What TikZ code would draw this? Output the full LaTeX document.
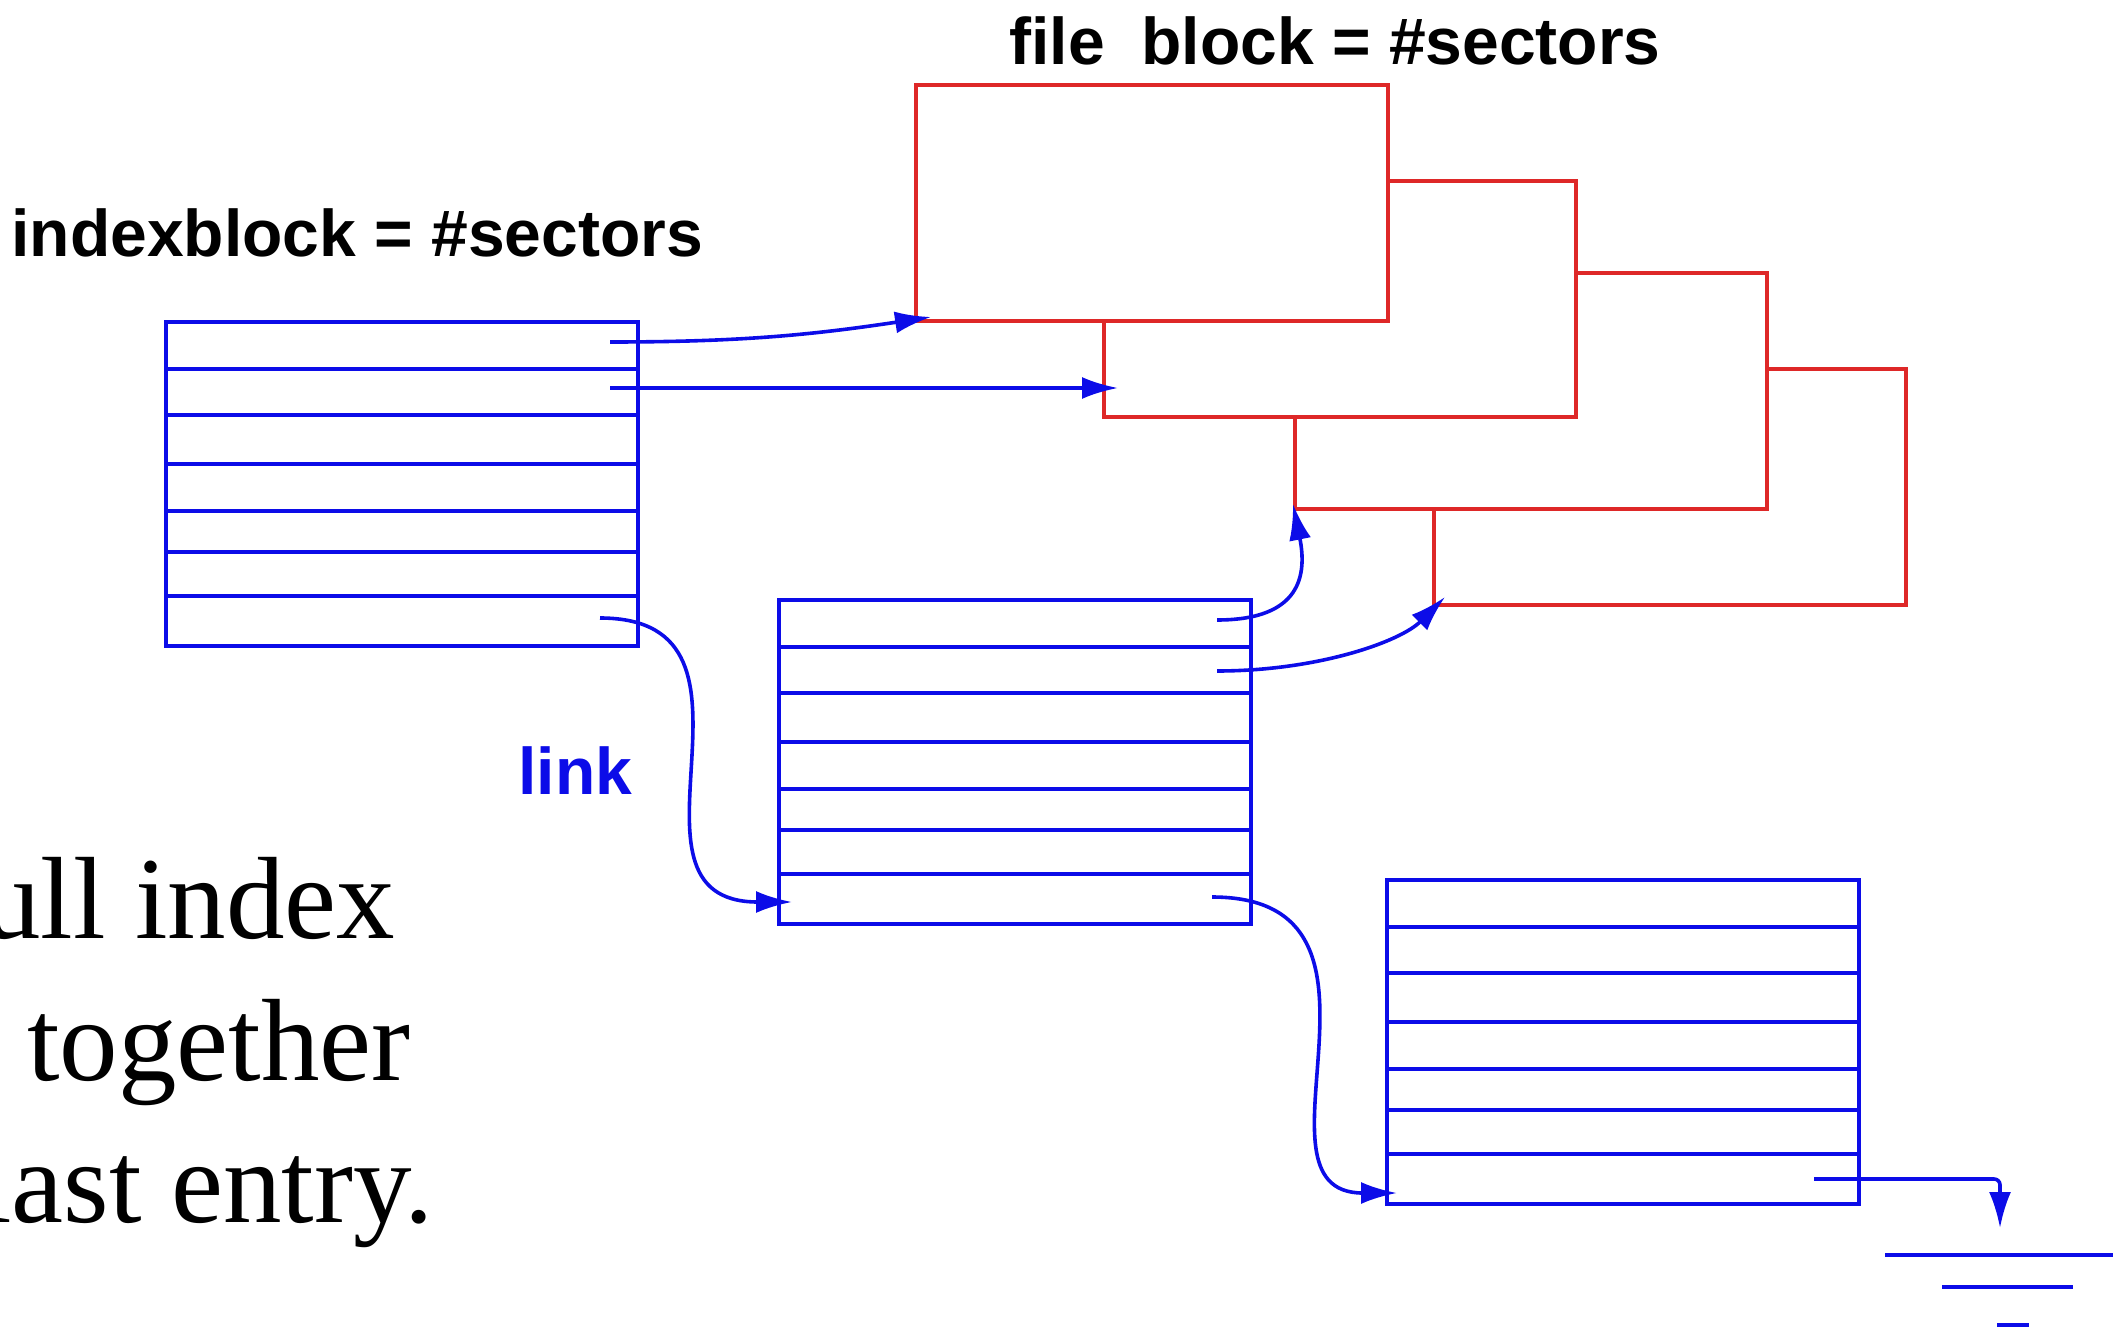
\documentclass[tikz,border=0pt]{standalone}
\usepackage{fontspec}
\setmainfont{Liberation Serif}
\newfontfamily\labelfont{Liberation Sans}
\usepackage{tikz}
\usetikzlibrary{arrows.meta,positioning}
\definecolor{ptrblue}{RGB}{12,12,232}
\definecolor{blockred}{RGB}{222,40,40}
\newcommand{\headlabel}[1]{{\labelfont\bfseries\fontsize{33}{40}\selectfont #1}}
\newcommand{\slidetext}[1]{{\fontsize{58.5}{71}\selectfont #1}}
\tikzset{indexbox/.style={rectangle,draw=ptrblue,line width=1.6pt,outer sep=0pt,inner sep=0pt,
    minimum width=236pt,minimum height=162pt,anchor=north west}}
\tikzset{filebox/.style={rectangle,draw=blockred,fill=white,line width=1.6pt,outer sep=0pt,inner sep=0pt,
    minimum width=236pt,minimum height=118pt,anchor=north west}}
\tikzset{rowline/.style={draw=ptrblue,line width=1.6pt}}
\tikzset{ptr/.style={draw=ptrblue,line width=1.8pt,-{Latex[length=18pt,width=11pt]}}}

\begin{document}
\begin{tikzpicture}[x=0.5pt,y=-0.5pt]
\useasboundingbox (0,0) rectangle (2123,1331);
\clip (0,0) rectangle (2123,1331);
% file blocks, back to front
\node (fb4) [filebox] at (1434,369) {};
\node (fb3) [filebox] at (1295,273) {};
\node (fb2) [filebox] at (1104,181) {};
\node (fb1) [filebox] at (916,85) {};
% index blocks
\node (ib1) [indexbox] at (166,322) {};
\node (ib2) [indexbox] at (779,600) {};
\node (ib3) [indexbox] at (1387,880) {};
\foreach \blk in {ib1,ib2,ib3}
  \foreach \r in {47,93,142,189,230,274}
    \draw[rowline] ([yshift=-\r*0.5pt]\blk.north west) -- ([yshift=-\r*0.5pt]\blk.north east);
%
\node (ibtitle) [anchor=base west,inner sep=0pt] at (11,257) {\headlabel{indexblock = \#sectors}};
\node (fbtitle) [anchor=base west,inner sep=0pt] at (1009,65) {\headlabel{file\ \ block = \#sectors}};
\node (linklbl) [anchor=base west,inner sep=0pt,text=ptrblue] at (518,794) {\headlabel{link}};
%
\node (line1) [anchor=base west,inner sep=0pt] at (-18,938) {\slidetext{ull index}};
\node (line2) [anchor=base west,inner sep=0pt] at (27,1080) {\slidetext{together}};
\node (line3) [anchor=base west,inner sep=0pt] at (-21,1222) {\slidetext{last entry.}};
% pointer ends
\coordinate (s1) at ([shift={(-28,20)}]ib1.north east);
\coordinate (s2) at ([shift={(-28,66)}]ib1.north east);
\coordinate (s5) at ([shift={(-38,296)}]ib1.north east);
\coordinate (s3) at ([shift={(-34,20)}]ib2.north east);
\coordinate (s4) at ([shift={(-34,71)}]ib2.north east);
\coordinate (s6) at ([shift={(-39,297)}]ib2.north east);
\coordinate (s7) at ([shift={(-45,299)}]ib3.north east);
\coordinate (t1) at ([shift={(15,-4)}]fb1.south west);
\path (fb2.west |- s2) ++(14,0) coordinate (t2);
\coordinate (t3) at ([shift={(-2,-5)}]fb3.south west);
\coordinate (t4) at ([shift={(11,-8)}]fb4.south west);
\coordinate (t5) at ([shift={(13,302)}]ib2.north west);
\coordinate (t6) at ([shift={(10,313)}]ib3.north west);
\coordinate (gnd) at (2000,1228);
%
\draw[ptr] (s1) .. controls +(130,0) and +(-120,18) .. (t1);
\draw[ptr] (s2) -- (t2);
\draw[ptr] (s3) .. controls +(85,0) and +(14,70) .. (t3);
\draw[ptr] (s4) .. controls +(100,0) and +(-45,45) .. (t4);
\draw[ptr] (s5) .. controls +(191,0) and +(-191,0) .. (t5);
\draw[ptr] (s6) .. controls +(210,0) and +(-160,0) .. (t6);
\draw[ptr,rounded corners=3pt] (s7) -| (gnd);
% ground
\draw[rowline] (1885,1255) -- (2113,1255);
\draw[rowline] (1942,1287) -- (2073,1287);
\draw[rowline] (1997,1325) -- (2029,1325);
\end{tikzpicture}
\end{document}
